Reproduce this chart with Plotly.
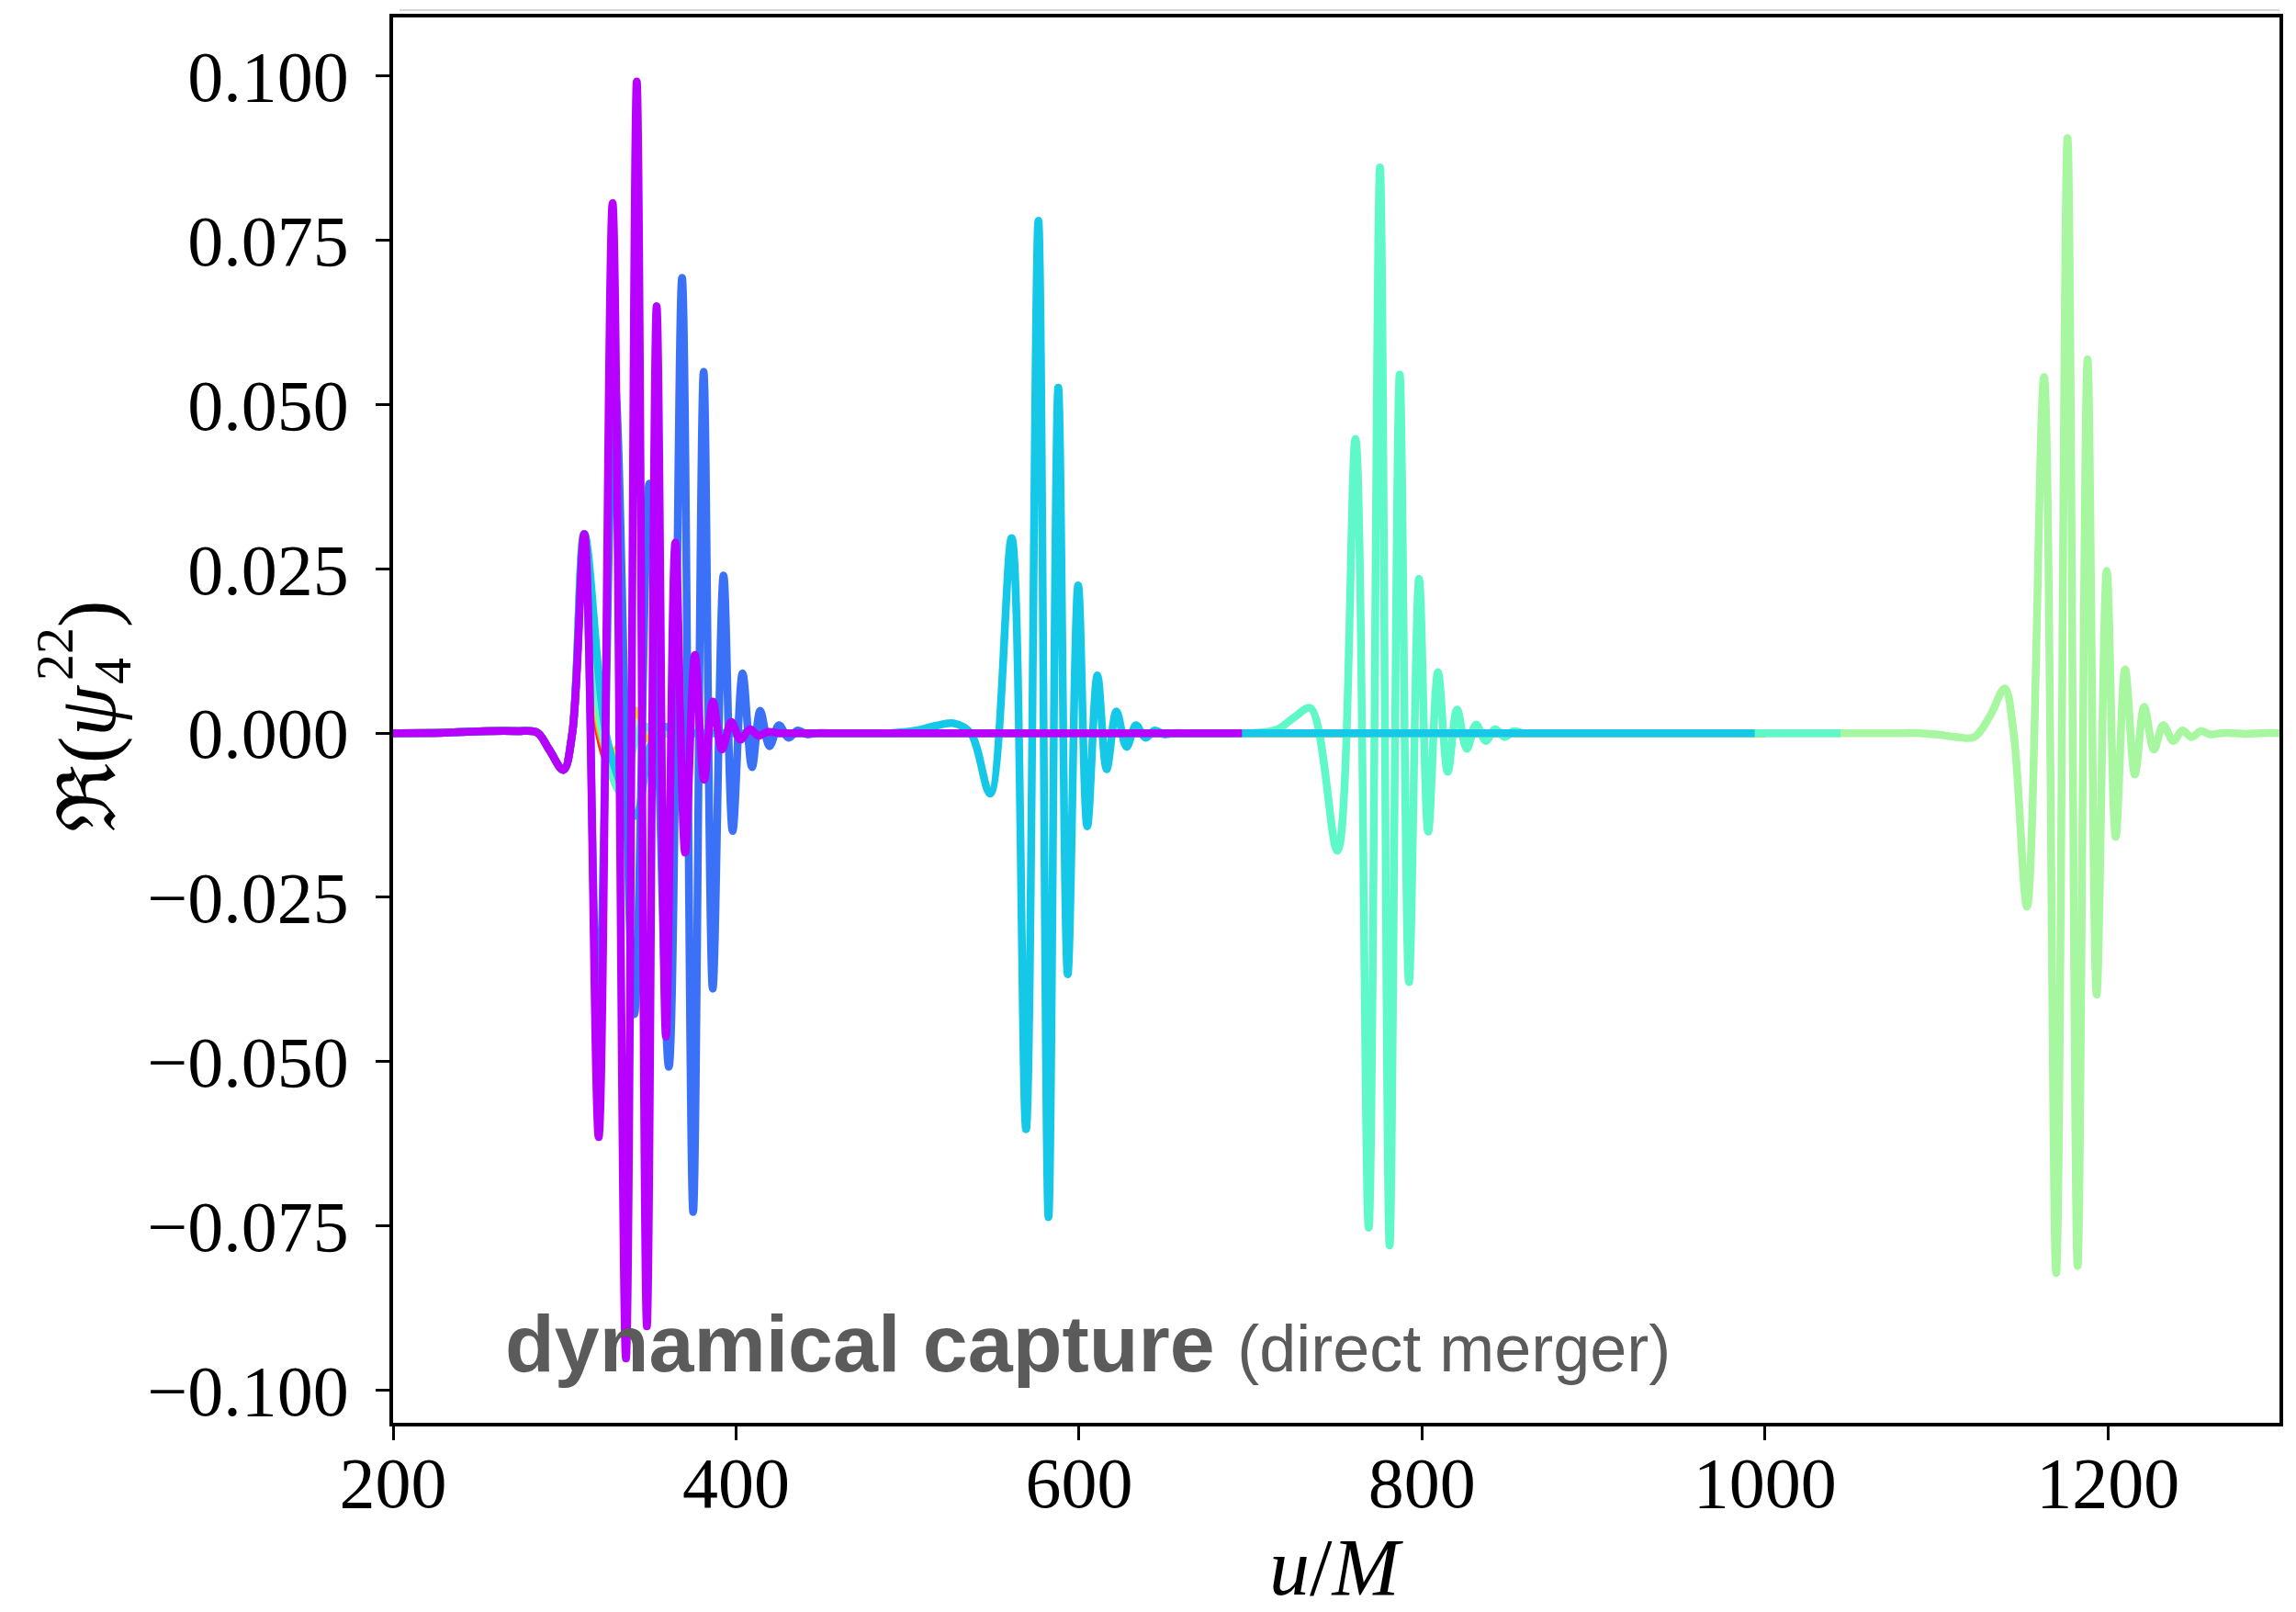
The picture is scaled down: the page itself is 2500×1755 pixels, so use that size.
import plotly.graph_objects as go

# ---- data (u/M, Re(psi4^22)) ----
pre_u = [200, 230, 255, 272, 284, 291, 299.3, 304.5, 311.5]
pre_v = [0.0, 0.00005, 0.0003, 0.0003, 0.0001, -0.0025, -0.0056, 0.0, 0.0303]

red_u = [320, 327, 336, 344, 1000]
red_v = [0.0, -0.005, 0.0, 0.0, 0.0]

orange_u = [321, 328, 336, 345, 355, 365, 373, 1000]
orange_v = [0.0, -0.004, 0.0005, 0.0008, 0.0003, 0.0, 0.0, 0.0]

yellow_u = [322, 330, 341.6, 348, 355, 362, 370, 1000]
yellow_v = [0.0, -0.003, 0.0034, -0.0008, 0.0005, 0.0, 0.0, 0.0]

green_u = [322, 330, 342, 352, 360, 1080, 1090, 1100, 1112, 1122, 1131, 1139.8, 1145, 1152.8,
           1162.7, 1169.8, 1176.4, 1182.3, 1188.1, 1193.4, 1199.3, 1204.5, 1210.0,
           1215.7, 1221.1, 1226.8, 1232.2, 1238.1, 1243.4, 1248.8, 1254.2, 1259.6,
           1266, 1273, 1280, 1290, 1300]
green_v = [0.0, -0.006, 0.0015, 0.0, 0.0, 0.0, 0.0, -0.0002, -0.0006, -0.0006, 0.0025, 0.0068, 0.0, -0.0264,
           0.0542, -0.0822, 0.0906, -0.0811, 0.0569, -0.0398, 0.0247, -0.0158, 0.0097,
           -0.0063, 0.0040, -0.0025, 0.0012, -0.0012, 0.0004, -0.0006, 0.0003, -0.0002,
           0.0, 0.0, -0.0001, 0.0, 0.0]

aqua_u = [322, 333, 345, 355, 362, 692, 700, 715, 726, 735, 750.7, 761.2, 768.9, 775.5, 781.1,
          787.0, 792.4, 798.3, 803.6, 809.3, 815.0, 820.4, 826.1, 831.5, 837.2, 842.5,
          848.2, 853.5, 859, 866, 1044]
aqua_v = [0.0, -0.009, 0.001, 0.0, 0.0, 0.0, 0.0, 0.0005, 0.0025, 0.0038, -0.0179, 0.0448, -0.0753, 0.0861, -0.0780,
          0.0546, -0.0379, 0.0235, -0.0150, 0.0093, -0.0059, 0.0036, -0.0024, 0.0013, -0.0012, 0.0006,
          -0.0006, 0.0003, 0.0, 0.0, 0.0]

cyan_u = [324, 333, 341.6, 350, 358, 366, 374, 482, 490, 505, 516, 526.7, 536.8, 548.2, 560.7,
          569.1, 576.3, 582.2, 587.9, 593.4, 599.5, 604.8, 610.7, 616.1, 621.8, 627.7,
          633.2, 638.7, 644.2, 649.7, 655, 662, 994]
cyan_v = [0.0, -0.008, -0.0126, -0.002, 0.001, 0.0, 0.0, 0.0, 0.0, 0.0004, 0.0011, 0.0015, 0.0, -0.0092, 0.0297,
          -0.0603, 0.0780, -0.0737, 0.0526, -0.0367, 0.0225, -0.0142, 0.0088, -0.0055, 0.0033, -0.0021,
          0.0012, -0.0007, 0.0004, -0.0002, 0.0, 0.0, 0.0]

blue_u = [319.5, 329.2, 340.6, 349.5, 360.8, 368.5, 375.0, 381.1, 386.4, 392.7, 398.0,
          403.8, 409.3, 414.1, 419.5, 425, 430.5, 436, 441.5, 447, 454, 690]
blue_v = [-0.045, 0.0536, -0.0428, 0.0380, -0.0508, 0.0693, -0.0729, 0.0550, -0.0389, 0.0240, -0.0149,
          0.0091, -0.0052, 0.0034, -0.0020, 0.0012, -0.0007, 0.0004, -0.0002, 0.0, 0.0, 0.0]

purple_u = [319.9, 328, 335.8, 342.1, 348, 353.7, 359.1, 364.6, 370.3, 376, 381.4, 386.4,
            391.8, 397.2, 402.5, 408, 413, 418.6, 425, 432, 695]
purple_v = [-0.0615, 0.0807, -0.0952, 0.0992, -0.0903, 0.065, -0.0462, 0.029, -0.0182, 0.0119, -0.0071,
            0.0048, -0.0025, 0.0017, -0.001, 0.0006, -0.0004, 0.0002, 0.0, 0.0, 0.0]

series = [
    ("red", red_u, red_v, "#ff2a1f"),
    ("orange", orange_u, orange_v, "#ff9a10"),
    ("yellow", yellow_u, yellow_v, "#f5d800"),
    ("green", green_u, green_v, "#a7f6a0"),
    ("aqua", aqua_u, aqua_v, "#5ff8c9"),
    ("cyan", cyan_u, cyan_v, "#15c8e7"),
    ("blue", blue_u, blue_v, "#3b71f7"),
    ("purple", purple_u, purple_v, "#b700ff"),
]

x_ticks = [200, 400, 600, 800, 1000, 1200]
y_ticks = [-0.1, -0.075, -0.05, -0.025, 0.0, 0.025, 0.05, 0.075, 0.1]
y_ticktext = [("\u2212" if t < 0 else "") + f"{abs(t):.3f}" for t in y_ticks]

fig = go.Figure()
for name, u, v, col in series:
    fig.add_trace(go.Scatter(
        x=pre_u + u, y=pre_v + v, mode="lines", name=name,
        line=dict(color=col, width=8.5, shape="spline", smoothing=1.0),
        hoverinfo="skip"))

W, H = 2500, 1755
L, R, T, B = 428, 18, 19, 206
ph = H - T - B

def py(Y):
    return (H - B - Y) / ph

def px(X):
    return (X - L) / (W - L - R)

serif = "Liberation Serif"
axis_common = dict(showline=True, mirror=True, linecolor="black", linewidth=3.5,
                   ticks="outside", ticklen=15, tickwidth=2.5, tickcolor="black",
                   showgrid=False, zeroline=False,
                   tickfont=dict(family=serif, size=78, color="black"))

fig.update_layout(
    width=W, height=H,
    margin=dict(l=L, r=R, t=T, b=B),
    paper_bgcolor="white", plot_bgcolor="white",
    showlegend=False,
    xaxis=dict(range=[200, 1300], tickvals=x_ticks, ticktext=[str(t) for t in x_ticks],
               ticklabelstandoff=-20, **axis_common),
    yaxis=dict(range=[-0.10498, 0.10894], tickvals=y_ticks, ticktext=y_ticktext,
               ticklabelstandoff=14, **axis_common),
)

ann = []
# x-axis title
ann.append(dict(text="<i>u</i>/<i>M</i>", xref="paper", yref="paper", x=0.5, y=py(1706),
                xanchor="center", yanchor="middle", showarrow=False,
                font=dict(family=serif, size=88, color="black")))
# y-axis title pieces (rotated)
ann.append(dict(text="\u211c(<i>\u03c8</i>", xref="paper", yref="paper", x=px(95), y=py(826),
                xanchor="center", yanchor="middle", showarrow=False, textangle=-90,
                font=dict(family=serif, size=88, color="black")))
ann.append(dict(text="22", xref="paper", yref="paper", x=px(60), y=py(712),
                xanchor="center", yanchor="middle", showarrow=False, textangle=-90,
                font=dict(family=serif, size=58, color="black")))
ann.append(dict(text="4", xref="paper", yref="paper", x=px(122), y=py(731),
                xanchor="center", yanchor="middle", showarrow=False, textangle=-90,
                font=dict(family=serif, size=58, color="black")))
ann.append(dict(text=")", xref="paper", yref="paper", x=px(95), y=py(669),
                xanchor="center", yanchor="middle", showarrow=False, textangle=-90,
                font=dict(family=serif, size=88, color="black")))
# in-plot label
ann.append(dict(text="<b>dynamical capture</b> <span style='font-size:72px'>(direct merger)</span>",
                xref="paper", yref="paper", x=px(548), y=py(1462),
                xanchor="left", yanchor="middle", showarrow=False,
                font=dict(family="Liberation Sans", size=88, color="#5b5b5b")))
fig.update_layout(annotations=ann)

# thin grey line above the frame
fig.add_shape(type="line", xref="paper", yref="paper", x0=px(435), x1=1.0, y0=py(11), y1=py(11),
              line=dict(color="#c8c8c8", width=1.5))

fig.write_html("out.html")
